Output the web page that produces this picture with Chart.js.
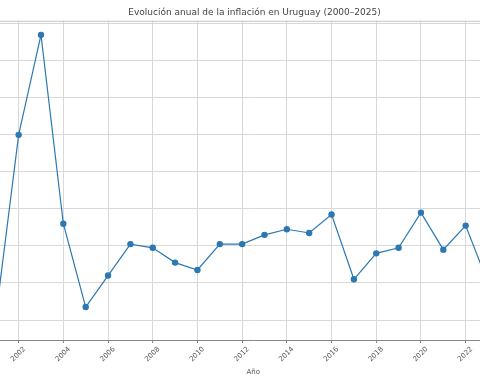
<!DOCTYPE html>
<html>
<head>
<meta charset="utf-8">
<script src="https://cdn.jsdelivr.net/npm/chart.js@4/dist/chart.umd.min.js"></script>
<style>
  html, body { margin: 0; padding: 0; background: #fff; overflow: hidden; width: 480px; height: 384px; }
  #wrap { position: absolute; left: -54px; top: 0; }
</style>
</head>
<body>
<div id="wrap"><canvas id="inflChart" width="617" height="384"></canvas></div>
<script>
const years = [2000, 2001, 2002, 2003, 2004, 2005, 2006, 2007, 2008, 2009, 2010, 2011, 2012,
               2013, 2014, 2015, 2016, 2017, 2018, 2019, 2020, 2021, 2022, 2023, 2024, 2025]
const inflation = [4.8, 4.4, 14.0, 19.4, 9.2, 4.7, 6.4, 8.1, 7.9, 7.1, 6.7, 8.1, 8.1,
                   8.6, 8.9, 8.7, 9.7, 6.2, 7.6, 7.9, 9.8, 7.8, 9.1, 6.0, 4.8, 3.7]
const xTicks = [2000, 2002, 2004, 2006, 2008, 2010, 2012, 2014, 2016, 2018, 2020, 2022, 2024, 2026]
const yTicks = [4, 6, 8, 10, 12, 14, 16, 18, 20]

const gridColor = '#d8d8d8'
const textColor = '#555'

// top spine, like the frame of the original plot
const topSpine = {
    id: 'topSpine',
    afterDraw(chart) {
        const { ctx, chartArea } = chart
        ctx.save()
        ctx.strokeStyle = '#c4c4c4'
        ctx.lineWidth = 1
        ctx.beginPath()
        ctx.moveTo(chartArea.left, chartArea.top + 0.5)
        ctx.lineTo(chartArea.right, chartArea.top + 0.5)
        ctx.stroke()
        ctx.restore()
    }
}

new Chart(document.getElementById('inflChart'), {
    type: 'line',
    data: {
        datasets: [{
            label: 'Inflación (%)',
            data: years.map((y, i) => ({ x: y, y: inflation[i] })),
            borderColor: '#2c78b2',
            backgroundColor: '#2c78b2',
            borderWidth: 1.2,
            pointRadius: 2.6,
            pointHoverRadius: 2.6,
            tension: 0
        }]
    },
    options: {
        responsive: false,
        animation: false,
        layout: { padding: 0, autoPadding: false },
        plugins: {
            legend: { display: false },
            tooltip: { enabled: false },
            title: {
                display: true,
                text: 'Evolución anual de la inflación en Uruguay (2000–2025)',
                color: '#444',
                font: { family: 'DejaVu Sans', size: 9, weight: 'normal' },
                padding: { top: 7, bottom: 3 }
            }
        },
        scales: {
            x: {
                type: 'linear',
                min: 1998.75,
                max: 2026.25,
                afterBuildTicks: s => { s.ticks = xTicks.map(v => ({ value: v })) },
                afterFit: s => { s.height = 44 },
                grid: { color: gridColor, tickLength: 3, tickColor: '#888' },
                border: { color: '#888', width: 1 },
                ticks: {
                    color: textColor,
                    font: { family: 'DejaVu Sans', size: 7 },
                    minRotation: 45,
                    maxRotation: 45,
                    labelOffset: 6,
                    padding: 2,
                    callback: v => String(v)
                },
                title: {
                    display: true,
                    text: 'Año',
                    color: textColor,
                    font: { family: 'DejaVu Sans', size: 7 },
                    padding: { top: 0, bottom: 8 }
                }
            },
            y: {
                min: 2.92,
                max: 20.16,
                afterBuildTicks: s => { s.ticks = yTicks.map(v => ({ value: v })) },
                grid: { color: gridColor, drawTicks: false },
                border: { display: false },
                ticks: { display: false }
            }
        }
    },
    plugins: [topSpine]
})
</script>
</body>
</html>
